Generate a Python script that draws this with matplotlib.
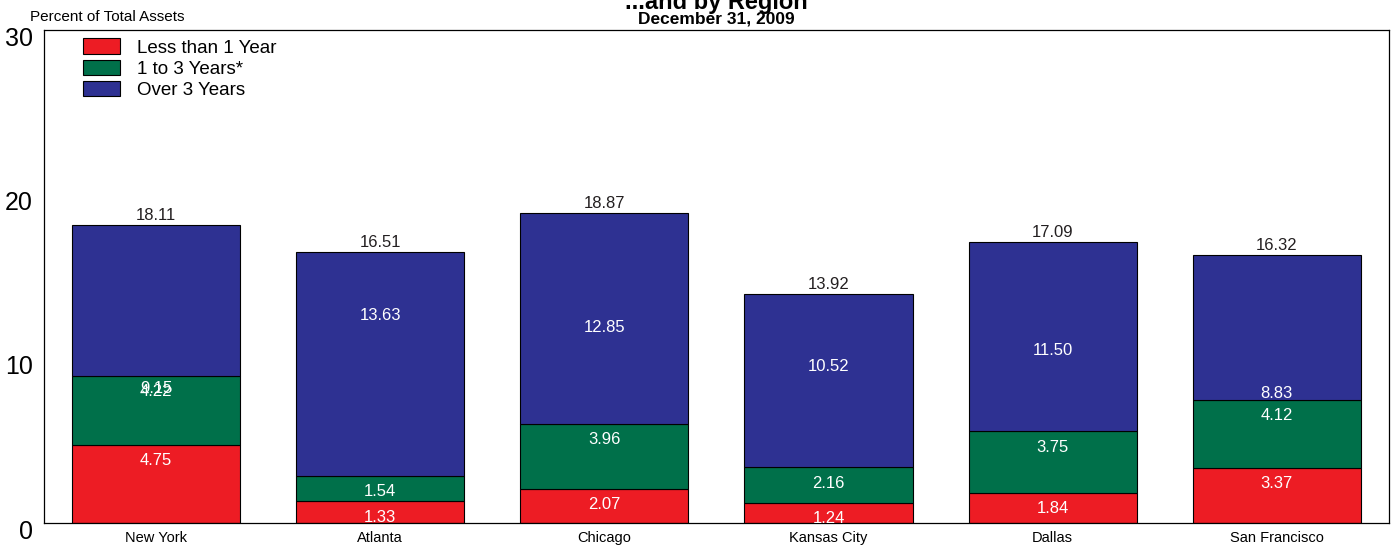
import matplotlib
matplotlib.use("Agg")
import matplotlib.pyplot as plt
import matplotlib.transforms as mtransforms
import numpy as np

plt.rcParams['font.family'] = ['Liberation Sans', 'DejaVu Sans']

# Data
regions = ["New York", "Atlanta", "Chicago", "Kansas City", "Dallas", "San Francisco"]
less_1yr = [4.75, 1.33, 2.07, 1.24, 1.84, 3.37]
yrs_1_3 = [4.22, 1.54, 3.96, 2.16, 3.75, 4.12]
over_3yr = [9.15, 13.63, 12.85, 10.52, 11.50, 8.83]
totals = [18.11, 16.51, 18.87, 13.92, 17.09, 16.32]

red = "#ED1C24"
green = "#00704A"
blue = "#2E3192"

fig = plt.figure(figsize=(13.93, 5.48), dpi=100)
ax = fig.add_axes([0.0316, 0.0456, 0.9654, 0.8994])

x = np.arange(len(regions))
w = 0.75
b1 = np.array(less_1yr)
b2 = b1 + np.array(yrs_1_3)

ax.bar(x, less_1yr, w, color=red, edgecolor="black", linewidth=0.8, label="Less than 1 Year")
ax.bar(x, yrs_1_3, w, bottom=b1, color=green, edgecolor="black", linewidth=0.8, label="1 to 3 Years*")
ax.bar(x, over_3yr, w, bottom=b2, color=blue, edgecolor="black", linewidth=0.8, label="Over 3 Years")

# segment labels (blue ones sit at their own value, as in the original)
for i in range(len(regions)):
    ax.annotate("%.2f" % less_1yr[i], (x[i], b1[i]), xytext=(0, -11.5), textcoords="offset points",
                ha="center", va="center", color="white", fontsize=12)
    ax.annotate("%.2f" % yrs_1_3[i], (x[i], b2[i]), xytext=(0, -11.5), textcoords="offset points",
                ha="center", va="center", color="white", fontsize=12)
    ax.annotate("%.2f" % over_3yr[i], (x[i], over_3yr[i]), xytext=(0, -11.5), textcoords="offset points",
                ha="center", va="center", color="white", fontsize=12)
    ax.annotate("%.2f" % totals[i], (x[i], totals[i]), xytext=(0, 7), textcoords="offset points",
                ha="center", va="center", color="#231F20", fontsize=12)

ax.set_xlim(-0.5, len(regions) - 0.5)
ax.set_ylim(0, 30)
ax.set_yticks([0, 10, 20, 30])
ax.set_xticks(x)
ax.set_xticklabels(regions, fontsize=10.5)
ax.tick_params(axis="y", length=0, labelsize=18, pad=8)
ax.tick_params(axis="x", length=0, pad=6)
# y labels sit a little below their gridline in the original
shift = mtransforms.ScaledTranslation(0, -6 / 100, fig.dpi_scale_trans)
for lab in ax.get_yticklabels():
    lab.set_transform(lab.get_transform() + shift)
for s in ax.spines.values():
    s.set_linewidth(0.9)

ax.legend(loc="upper left", bbox_to_anchor=(0.019, 1.01), frameon=False, fontsize=13.5,
          handlelength=2.0, handleheight=0.9, handletextpad=0.9, labelspacing=0.16,
          borderaxespad=0.3)

fig.text(0.0215, 0.969, "Percent of Total Assets", fontsize=11, ha="left", va="center")
fig.text(0.514, 0.995, "...and by Region", fontsize=17, fontweight="bold", ha="center", va="center")
fig.text(0.514, 0.965, "December 31, 2009", fontsize=12.5, fontweight="bold", ha="center", va="center")

fig.savefig("out.png", dpi=100)
